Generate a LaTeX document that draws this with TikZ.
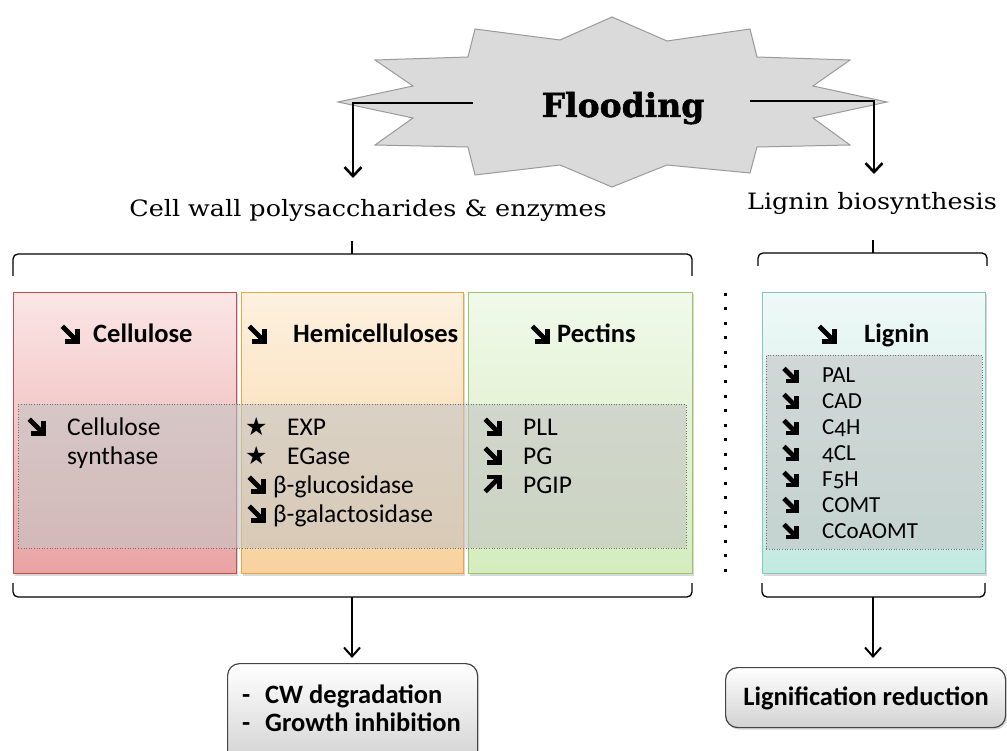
\documentclass[tikz,border=0pt]{standalone}
\usepackage{fontspec}
\setmainfont{Carlito}[Numbers=OldStyle]
\newfontfamily\symf{DejaVu Sans}
\newfontfamily\twf{DejaVu Serif}[FakeStretch=1.13]
\newfontfamily\twbf{DejaVu Serif Bold}[FakeStretch=1.0,FakeBold=1.5]
\usetikzlibrary{arrows.meta,shadows}
\definecolor{starfill}{HTML}{DADADA}
\definecolor{starline}{HTML}{9A9A9A}
\definecolor{redtop}{HTML}{FBE6E6}
\definecolor{redbot}{HTML}{E9A3A4}
\definecolor{redline}{HTML}{C0504D}
\definecolor{orgtop}{HTML}{FDF1E0}
\definecolor{orgbot}{HTML}{F8D29E}
\definecolor{orgline}{HTML}{EDA640}
\definecolor{grntop}{HTML}{F1F9EA}
\definecolor{grnbot}{HTML}{D4ECBE}
\definecolor{grnline}{HTML}{9BC46B}
\definecolor{teatop}{HTML}{EFF9F7}
\definecolor{teabot}{HTML}{C2EAE1}
\definecolor{tealine}{HTML}{88C7BD}
\definecolor{ovfill}{HTML}{C4C4C4}
\definecolor{resline}{HTML}{444444}
\definecolor{resbot}{HTML}{D2D2D2}
\begin{document}
\begin{tikzpicture}[x=1pt,y=-1pt,
  catbox/.style={draw, line width=1pt, anchor=north west, minimum height=281pt, inner sep=0pt,
    drop shadow={shadow xshift=1.5pt, shadow yshift=-2pt, opacity=0.3}},
  overlay/.style={anchor=north west, inner sep=0pt, fill=ovfill, fill opacity=0.6,
    draw=black!55, draw opacity=1, dotted, line width=0.6pt},
  head/.style={font=\bfseries\fontsize{26.5}{30}\selectfont, anchor=base west, inner sep=0pt},
  item/.style={font=\fontsize{25.5}{29}\selectfont, anchor=base west, inner sep=0pt},
  iarr/.style={font=\symf\fontsize{25}{29}\selectfont, anchor=base west, inner sep=0pt},
  litem/.style={font=\fontsize{23}{26}\selectfont, anchor=base west, inner sep=0pt},
  toplabel/.style={font=\twf\fontsize{22.5}{26}\selectfont, anchor=base, inner sep=0pt},
  brace/.style={line width=1.3pt, rounded corners=5pt},
  bigarrow/.style={line width=2.6pt, -{Straight Barb[length=9pt,width=17pt,line width=2.6pt]}},
  smallarrow/.style={line width=1.4pt, -{Straight Barb[length=9pt,width=16pt,line width=2pt]}},
  result/.style={draw=resline, line width=1.2pt, rounded corners=12pt, top color=white, bottom color=resbot,
    anchor=north west, inner sep=0pt,
    drop shadow={shadow xshift=1.5pt, shadow yshift=-2pt, opacity=0.3}},
  rtext/.style={font=\bfseries\fontsize{26.5}{30}\selectfont, anchor=base west, inner sep=0pt},
  sea/.pic={
    \draw[line width=4.8pt, line cap=butt] (2,2) -- (13,13);
    \draw[line width=4.8pt, line join=miter, line cap=butt] (4,15.2) -- (15.2,15.2) -- (15.2,4);},
  nea/.pic={
    \draw[line width=4.8pt, line cap=butt] (2,15) -- (13,4);
    \draw[line width=4.8pt, line join=miter, line cap=butt] (4,1.8) -- (15.2,1.8) -- (15.2,13);}
]
\useasboundingbox (0,0) rectangle (1007,751);
\clip (0,0) rectangle (1007,751);
\fill[white] (0,0) rectangle (1007,751);

% Flooding star
\draw[fill=starfill, draw=starline, line width=1pt, line join=miter]
  (338,102) -- (413,86) -- (375,60) -- (468,57) -- (475,29) -- (560,40) -- (612,17) -- (667,41)
  -- (750,29) -- (757,57) -- (850,60) -- (813,86) -- (887,102) -- (813,118) -- (850,145)
  -- (757,147) -- (750,173) -- (667,165) -- (612,187) -- (560,165) -- (475,175) -- (468,147)
  -- (375,145) -- (413,118) -- cycle;
\node[font=\twbf\fontsize{33}{36}\selectfont, anchor=base, inner sep=0pt] (flood) at (623,117) {Flooding};

\coordinate (fl1) at (473,103);
\coordinate (fl2) at (750,101);
\coordinate (tip1) at (353,178);
\coordinate (tip2) at (874,174);
\draw[bigarrow] (fl1) -| (tip1);
\draw[bigarrow] (fl2) -| (tip2);

% top labels
\node[toplabel] (cwlab) at (368,217) {Cell wall polysaccharides \& enzymes};
\node[toplabel] (liglab) at (872,210) {Lignin biosynthesis};

% top braces
\draw[brace] (13,276) -- (13,254) -- (692,254) -- (692,276);
\draw[line width=1.3pt] (352,254) -- (352,241);
\draw[brace] (758,266) -- (758,253) -- (987,253) -- (987,266);
\draw[line width=1.3pt] (873,253) -- (873,240);

% category boxes
\node[catbox, draw=redline, top color=redtop, bottom color=redbot, minimum width=223pt] (cell) at (13,292) {};
\node[catbox, draw=orgline, top color=orgtop, bottom color=orgbot, minimum width=222pt] (hemi) at (241,292) {};
\node[catbox, draw=grnline, top color=grntop, bottom color=grnbot, minimum width=224pt] (pect) at (468,292) {};
\node[catbox, draw=tealine, top color=teatop, bottom color=teabot, minimum width=223pt] (lign) at (762,292) {};

% dotted separator
\draw[line width=3pt, dash pattern=on 3pt off 11.5pt] (725,293) -- (725,574);

% overlays
\node[overlay, minimum width=668pt, minimum height=144pt] (ov) at (18,404) {};
\node[overlay, minimum width=216pt, minimum height=194pt] (lov) at (766,355) {};

% headings
\pic[scale=1.15] at (60,324) {sea};
\node[head] (h1) at (93,343) {Cellulose};
\pic[scale=1.15] at (247,324) {sea};
\node[head] (h2) at (293,343) {Hemicelluloses};
\pic[scale=1.15] at (530,324) {sea};
\node[head] (h3) at (557,343) {Pectins};
\pic[scale=1.15] at (817,324) {sea};
\node[head] (h4) at (864,343) {Lignin};

% cellulose items
\pic[scale=1.1] at (27,417) {sea};
\node[item] (c1) at (67,435) {Cellulose};
\node[item] (c2) at (67,464) {synthase};

% hemicellulose items
\node[iarr] (hs1) at (245,435) {★};
\node[item] (hi1) at (287,435) {EXP};
\node[iarr] (hs2) at (245,464) {★};
\node[item] (hi2) at (287,464) {EGase};
\pic[scale=1.1] at (247,475) {sea};
\node[item] (hi3) at (273,493) {β-glucosidase};
\pic[scale=1.1] at (247,504) {sea};
\node[item] (hi4) at (273,522) {β-galactosidase};

% pectin items
\pic[scale=1.1] at (483,417) {sea};
\node[item] (pi1) at (523,435) {PLL};
\pic[scale=1.1] at (483,446) {sea};
\node[item] (pi2) at (523,464) {PG};
\pic[scale=1.1] at (483,475) {nea};
\node[item] (pi3) at (523,493) {PGIP};

% lignin items
\foreach \yy/\txt/\nm in {382/PAL/li1, 408/CAD/li2, 434/C4H/li3, 460/4CL/li4, 486/F5H/li5, 512/COMT/li6, 538/CCoAOMT/li7}{
  \pic[scale=0.95] at (782,\yy-15.5) {sea};
  \node[litem] (\nm) at (822,\yy) {\txt};
}

% bottom braces
\draw[brace] (13,583) -- (13,597) -- (692,597) -- (692,583);
\draw[brace] (762,583) -- (762,597) -- (985,597) -- (985,583);
\coordinate (bb1) at (352,597);
\coordinate (bb2) at (873,597);

% result boxes
\node[result, minimum width=250pt, minimum height=100pt] (cw) at (227,663) {};
\node[result, minimum width=280pt, minimum height=60pt] (lr) at (725,667) {};
\node[rtext] (r1d) at (242,703) {-};
\node[rtext] (r1) at (265,703) {CW degradation};
\node[rtext] (r2d) at (242,731) {-};
\node[rtext] (r2) at (265,731) {Growth inhibition};
\node[font=\bfseries\fontsize{26.5}{30}\selectfont, anchor=base, inner sep=0pt] (lrt) at (866,705) {Lignification reduction};

\draw[smallarrow, shorten >=5pt] (bb1) -- (bb1 |- cw.north);
\draw[smallarrow, shorten >=9pt] (bb2) -- (bb2 |- lr.north);
\end{tikzpicture}
\end{document}
